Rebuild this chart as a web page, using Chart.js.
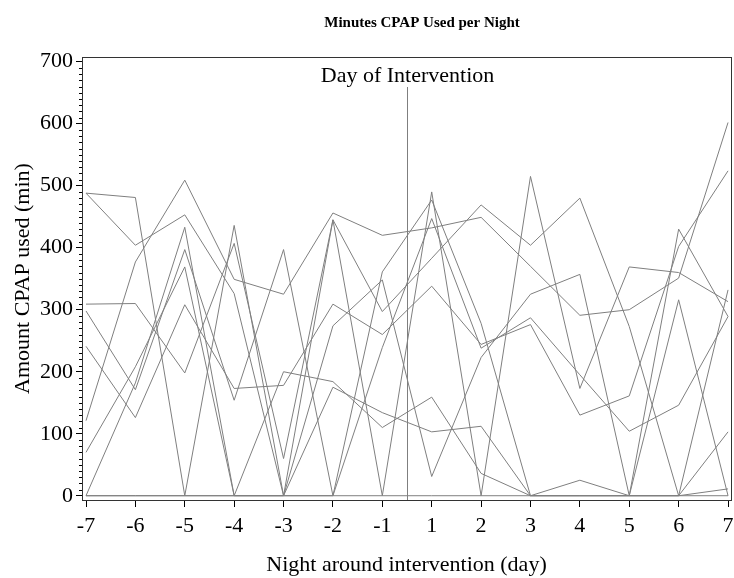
<!DOCTYPE html>
<html lang="en">
<head>
  <meta charset="UTF-8">
  <title>Minutes CPAP Used per Night</title>
  <script src="https://cdn.jsdelivr.net/npm/chart.js"></script>
  <style>
    html, body { margin: 0; padding: 0; background: #fff; }
    #wrap { width: 734px; height: 578px; }
  </style>
</head>
<body>
  <div id="wrap"><canvas id="cpapChart" width="734" height="578"></canvas></div>

  <script>
    // nights around the intervention (there is no night 0)
    var nights = ['-7', '-6', '-5', '-4', '-3', '-2', '-1', '1', '2', '3', '4', '5', '6', '7'];
    var yTicks = [0, 100, 200, 300, 400, 500, 600, 700];

    // minutes of CPAP use per subject, one value per night
    var subj1 = [488, 481, 0, 436, 0, 445, 0, 490, 0, 515, 173, 369, 360, 313];
    var subj2 = [488, 404, 453, 326, 0, 175, 134, 103, 112, 0, 0, 0, 0, 103];
    var subj3 = [309, 310, 198, 407, 60, 445, 297, 383, 469, 404, 480, 273, 0, 332];
    var subj4 = [298, 171, 397, 154, 397, 0, 361, 477, 278, 0, 0, 0, 316, 0];
    var subj5 = [241, 126, 308, 173, 178, 309, 260, 338, 244, 276, 130, 161, 402, 524];
    var subj6 = [121, 377, 509, 349, 325, 456, 420, 432, 449, 370, 291, 300, 351, 602];
    var subj7 = [70, 208, 369, 0, 200, 184, 110, 159, 36, 0, 25, 0, 0, 11];
    var subj8 = [0, 182, 433, 0, 0, 274, 348, 31, 223, 325, 357, 0, 430, 289];
    var subj9 = [0, 0, 0, 0, 0, 0, 239, 447, 238, 287, 195, 104, 146, 289];
    var subj10 = [0, 0, 0, 0, 0, 0, 0, 0, 0, 0, 0, 0, 0, 0];

    var allSubjects = [subj1, subj2, subj3, subj4, subj5, subj6, subj7, subj8, subj9, subj10];

    // the intervention falls between night -1 (index 6) and night 1 (index 7)
    var interventionAt = 6.5;

    var serif = '"Liberation Serif", "Times New Roman", serif';

    function toPoints(vals) {
      return vals.map(function (v, i) { return { x: i, y: v }; });
    }

    var datasets = allSubjects.map(function (vals) {
      return {
        data: toPoints(vals),
        borderColor: '#7f7f7f',
        borderWidth: 1,
        pointRadius: 0,
        tension: 0,
        fill: false
      };
    });

    var extrasPlugin = {
      id: 'extras',
      afterDraw: function (chart) {
        var ctx = chart.ctx;
        var a = chart.chartArea;
        var xs = chart.scales.x;
        var ys = chart.scales.y;
        ctx.save();

        // minor ticks on the y axis
        ctx.strokeStyle = '#000';
        ctx.lineWidth = 1;
        ctx.beginPath();
        for (var v = 0; v <= 700; v += 10) {
          if (v % 100 === 0) continue;
          var py = Math.round(ys.getPixelForValue(v)) + 0.5;
          ctx.moveTo(a.left - 3, py);
          ctx.lineTo(a.left, py);
        }
        ctx.stroke();

        // frame round the plot
        ctx.strokeStyle = '#333';
        ctx.strokeRect(Math.round(a.left) + 0.5, Math.round(a.top) + 0.5,
          Math.round(a.right - a.left), Math.round(a.bottom - a.top));

        // day of intervention reference line
        var px = Math.round(xs.getPixelForValue(interventionAt)) + 0.5;
        ctx.strokeStyle = '#7f7f7f';
        ctx.beginPath();
        ctx.moveTo(px, a.top + 30);
        ctx.lineTo(px, a.bottom);
        ctx.stroke();

        ctx.fillStyle = '#000';
        ctx.textAlign = 'center';
        ctx.textBaseline = 'alphabetic';
        ctx.font = '22px ' + serif;
        ctx.fillText('Day of Intervention', px, a.top + 25);

        ctx.font = 'bold 15px ' + serif;
        ctx.fillText('Minutes CPAP Used per Night', 422, 27);
        ctx.restore();
      }
    };

    var ctx = document.getElementById('cpapChart').getContext('2d');

    var myChart = new Chart(ctx, {
      type: 'line',
      data: { datasets: datasets },
      plugins: [extrasPlugin],
      options: {
        responsive: false,
        animation: false,
        layout: { padding: { top: 57, right: 3, left: 0, bottom: 0 } },
        plugins: {
          legend: { display: false },
          tooltip: { enabled: false }
        },
        scales: {
          x: {
            type: 'linear',
            min: -0.081,
            max: 13.06,
            afterBuildTicks: function (scale) {
              scale.ticks = nights.map(function (n, i) { return { value: i }; });
            },
            afterFit: function (scale) {
              scale.height = 78;
              scale.paddingLeft = 0;
              scale.paddingRight = 0;
            },
            ticks: {
              autoSkip: false,
              maxRotation: 0,
              padding: 6,
              color: '#000',
              font: { family: serif, size: 22 },
              callback: function (value) { return nights[value]; }
            },
            grid: { drawOnChartArea: false, tickLength: 7, color: '#000' },
            border: { color: '#333' },
            title: {
              display: true,
              text: 'Night around intervention (day)',
              color: '#000',
              font: { family: serif, size: 22 },
              padding: { top: 0, bottom: 0 }
            }
          },
          y: {
            min: -6.9,
            max: 707.6,
            afterBuildTicks: function (scale) {
              scale.ticks = yTicks.map(function (v) { return { value: v }; });
            },
            afterFit: function (scale) {
              scale.width = 82;
              scale.paddingTop = 0;
              scale.paddingBottom = 0;
            },
            ticks: {
              padding: 3,
              color: '#000',
              font: { family: serif, size: 22 }
            },
            grid: { drawOnChartArea: false, tickLength: 6, color: '#000' },
            border: { color: '#333' },
            title: {
              display: true,
              text: 'Amount CPAP used (min)',
              color: '#000',
              font: { family: serif, size: 22 },
              padding: { top: 10, bottom: 0 }
            }
          }
        }
      }
    });
  </script>
</body>
</html>
